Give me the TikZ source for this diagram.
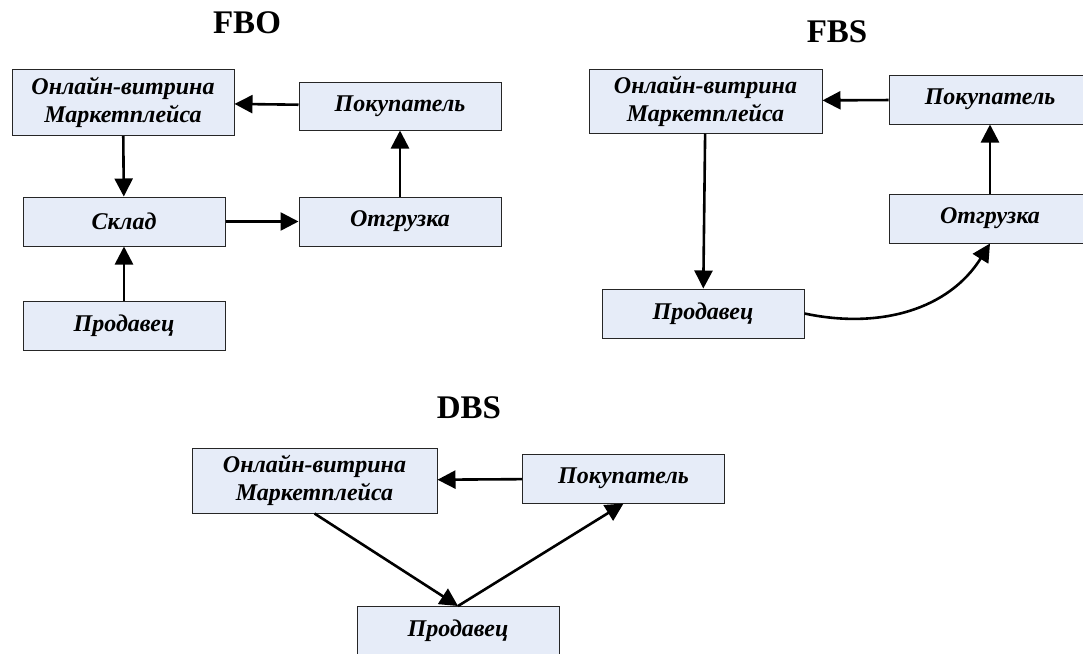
\documentclass[tikz,border=0pt]{standalone}
\usepackage{fontspec}
\setmainfont{Liberation Serif}
\usetikzlibrary{arrows.meta}
\definecolor{bcol}{RGB}{230,236,248}
\tikzset{every picture/.style={x=1pt,y=-1pt}}
\tikzset{box/.style={draw=black!85,line width=1pt,fill=bcol,minimum width=202pt,minimum height=49pt,inner sep=2pt,align=center,font=\fontsize{24}{28}\selectfont\bfseries\itshape}}
\tikzset{shop/.style={minimum height=66pt}}
\tikzset{head/.style={font=\fontsize{33}{36}\selectfont\bfseries}}
\tikzset{edge/.style={line width=2.6pt,-{Triangle[length=18pt,width=18pt]}}}

\begin{document}
\begin{tikzpicture}
\useasboundingbox (0,0) rectangle (1083,653);

% FBO
\node [head] (fboT) at (247,23) {FBO};
\node [box,shop,minimum width=222pt] (fboOnl) at (123,102.5) {Онлайн-витрина\\Маркетплейса};
\node [box,minimum height=48pt] (fboBuy) at (400,106) {Покупатель};
\node [box] (fboSklad) at (124,221.5) {Склад};
\node [box] (fboShip) at (400,221.5) {Отгрузка};
\node [box] (fboSell) at (124,326) {Продавец};
\draw [edge] (fboBuy) -- (fboOnl);
\draw [edge] (fboOnl) -- (fboSklad);
\draw [edge] (fboSklad) -- (fboShip);
\draw [edge] (fboShip) -- (fboBuy);
\draw [edge] (fboSell) -- (fboSklad);

% FBS
\node [head] (fbsT) at (837,32) {FBS};
\node [box,minimum width=233pt,minimum height=64pt] (fbsOnl) at (705.5,101) {Онлайн-витрина\\Маркетплейса};
\node [box] (fbsBuy) at (990,99.5) {Покупатель};
\node [box] (fbsShip) at (990,218.5) {Отгрузка};
\node [box] (fbsSell) at (703,313.5) {Продавец};
\draw [edge] (fbsBuy) -- (fbsOnl);
\draw [edge] (fbsOnl) -- (fbsSell);
\draw [edge] (fbsShip) -- (fbsBuy);
\draw [edge] (fbsSell.east) to [out=-12,in=-122] (fbsShip.south);

% DBS
\node [head] (dbsT) at (469,408) {DBS};
\node [box,minimum width=245pt,minimum height=65pt] (dbsOnl) at (314.5,480.5) {Онлайн-витрина\\Маркетплейса};
\node [box] (dbsBuy) at (623.5,478.5) {Покупатель};
\node [box] (dbsSell) at (458,631) {Продавец};
\draw [edge] (dbsBuy) -- (dbsOnl);
\draw [edge] (dbsOnl.south) -- (dbsSell.north);
\draw [edge] (dbsSell.north) -- (dbsBuy.south);
\end{tikzpicture}
\end{document}
